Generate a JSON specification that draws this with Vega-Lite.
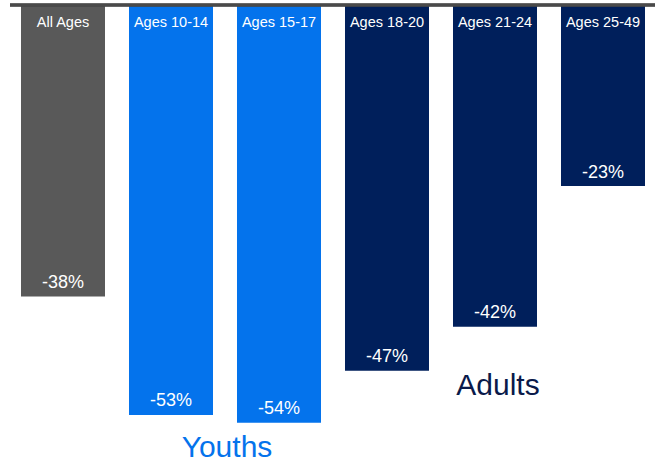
{
  "$schema": "https://vega.github.io/schema/vega-lite/v6.json",
  "width": 655,
  "height": 464,
  "autosize": "none",
  "padding": 0,
  "background": "white",
  "config": {"view": {"stroke": null}, "font": "Liberation Sans", "text": {"font": "Liberation Sans"}},
  "data": {
    "values": [
      {"age": "All Ages", "change": -37.7, "label": "-38%", "group": "All"},
      {"age": "Ages 10-14", "change": -53, "label": "-53%", "group": "Youths"},
      {"age": "Ages 15-17", "change": -54, "label": "-54%", "group": "Youths"},
      {"age": "Ages 18-20", "change": -47.3, "label": "-47%", "group": "Adults"},
      {"age": "Ages 21-24", "change": -41.6, "label": "-42%", "group": "Adults"},
      {"age": "Ages 25-49", "change": -23.4, "label": "-23%", "group": "Adults"}
    ]
  },
  "encoding": {
    "x": {
      "field": "age", "type": "nominal", "sort": null,
      "scale": {"range": [21, 645], "paddingInner": 0.2222, "paddingOuter": 0},
      "axis": null
    }
  },
  "layer": [
    {
      "mark": {"type": "bar"},
      "encoding": {
        "y": {"field": "change", "type": "quantitative",
              "scale": {"domain": [-54, 0], "range": [422.7, 5], "nice": false, "zero": false},
              "axis": null},
        "color": {"field": "group", "type": "nominal",
                  "scale": {"domain": ["All", "Youths", "Adults"], "range": ["#595959", "#0473EC", "#001F5B"]},
                  "legend": null}
      }
    },
    {
      "mark": {"type": "text", "font": "Liberation Sans", "color": "white", "fontSize": 14.5, "baseline": "alphabetic", "align": "center", "dy": 21.5},
      "encoding": {
        "y": {"datum": 0, "type": "quantitative"},
        "text": {"field": "age"}
      }
    },
    {
      "mark": {"type": "text", "font": "Liberation Sans", "color": "white", "fontSize": 18, "baseline": "alphabetic", "align": "center", "dy": -8.5},
      "encoding": {
        "y": {"field": "change", "type": "quantitative"},
        "text": {"field": "label"}
      }
    },
    {
      "mark": {"type": "rule", "color": "#4a4a4a", "strokeWidth": 2.7},
      "encoding": {"y": {"datum": 0, "type": "quantitative"}, "x": {"value": 10}, "x2": {"value": 655}}
    },
    {
      "data": {"values": [{"label": "Youths", "age": "Ages 10-14"}]},
      "mark": {"type": "text", "font": "Liberation Sans", "color": "#0473EC", "fontSize": 30, "baseline": "alphabetic", "align": "center", "dx": 14},
      "encoding": {
        "x": {"field": "age", "type": "nominal", "bandPosition": 1},
        "y": {"datum": -58.4, "type": "quantitative"},
        "text": {"field": "label"}
      }
    },
    {
      "data": {"values": [{"label": "Adults", "age": "Ages 21-24"}]},
      "mark": {"type": "text", "font": "Liberation Sans", "color": "#0A1A4A", "fontSize": 30, "baseline": "alphabetic", "align": "center", "dx": 3},
      "encoding": {
        "x": {"field": "age", "type": "nominal"},
        "y": {"datum": -50.4, "type": "quantitative"},
        "text": {"field": "label"}
      }
    }
  ]
}
